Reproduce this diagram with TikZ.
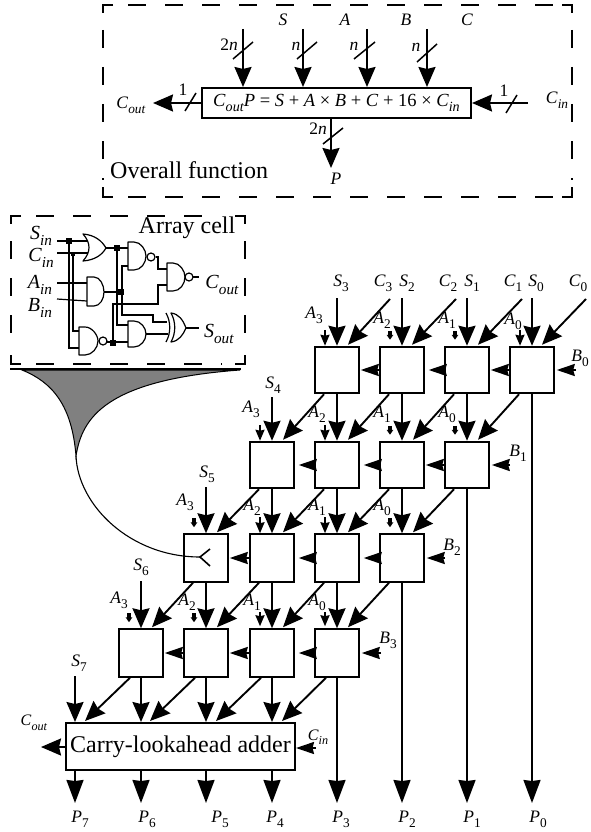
\documentclass[tikz,border=0pt]{standalone}
\usepackage{fontspec}
\usepackage{graphicx}
\setmainfont{Liberation Serif}
\usetikzlibrary{arrows.meta,calc}
\newcommand\Sb[2]{\textit{#1}\raisebox{-.28em}{\scalebox{.76}{#2}}}
\newcommand\Si[2]{\Sb{#1}{\textit{#2}}}
\tikzset{
 cellbox/.style={draw,line width=2pt,minimum width=43.5pt,minimum height=46.5pt,inner sep=0,fill=white},
 lab/.style={inner sep=0,font=\fontsize{17.5}{19}\selectfont},
 clab/.style={inner sep=0,font=\fontsize{20}{22}\selectfont},
 alab/.style={inner sep=0,font=\fontsize{16}{18}\selectfont},
 big/.style={inner sep=0,font=\fontsize{24}{26}\selectfont},
 arr/.style={line width=1.9pt,-{Stealth[length=20pt,width=17pt,inset=2pt]}},
 arrp/.style={line width=1.9pt,-{Stealth[length=23pt,width=17pt,inset=1pt]}},
 arrs/.style={line width=1.9pt,-{Stealth[length=18pt,width=12pt,inset=1.5pt]}},
 small/.style={line width=1.9pt,-{Stealth[length=11pt,width=9pt,inset=1pt]}},
 stub/.style={line width=4pt,-{Stealth[length=5pt,width=6.5pt,inset=0pt]}},
 frame/.style={line width=1.4pt,dash pattern=on 18pt off 19pt},
 corner/.style={line width=1.4pt},
 slash/.style={line width=1.5pt},
 gate/.style={line width=1.2pt,fill=white,line join=round},
 wire/.style={line width=1.2pt},
}
\begin{document}
\begin{tikzpicture}[x=1pt,y=-1pt]
\useasboundingbox (0,0) rectangle (590,832);
% ---------- Overall function
\draw[frame] (128,5) -- (565,5);
\draw[frame] (128,197) -- (565,197);
\draw[frame] (103,30) -- (103,180);
\draw[frame] (572,30) -- (572,180);
\draw[corner] (113,5) -| (103,13);
\draw[corner] (562,5) -| (572,13);
\draw[corner] (103,187) |- (113,197);
\draw[corner] (572,187) |- (562,197);
\node[draw,line width=2pt,minimum width=269pt,minimum height=30pt,inner sep=0,
  font=\fontsize{18.5}{20}\selectfont] (fn) at (336.5,103)
  {\Si{C}{out}\textit{P} = \textit{S} + \textit{A} × \textit{B} + \textit{C} + 16 × \Si{C}{in}};
\node[lab] (lS) at (283,20) {\textit{S}};
\node[lab] (lA) at (345,20) {\textit{A}};
\node[lab] (lB) at (406,20) {\textit{B}};
\node[lab] (lC) at (467,20) {\textit{C}};
\foreach \n/\x in {i1/243,i2/303,i3/367,i4/427}{\coordinate (\n) at (\x,29);}
\foreach \n in {i1,i2,i3,i4}{\draw[arr] (\n) -- (\n |- fn.north);}
\draw[slash] (233,59) -- (253,42);
\draw[slash] (297,59) -- (317,42);
\draw[slash] (354,59) -- (375,42);
\draw[slash] (417,62) -- (437,44);
\node[lab] (n2n) at (229,45) {2\textit{n}};
\node[lab] (n1) at (296,46) {\textit{n}};
\node[lab] (n3) at (354,46) {\textit{n}};
\node[lab] (n4) at (416,47) {\textit{n}};
\coordinate (co) at (153,103);
\coordinate (ci) at (528,103);
\coordinate (po) at (331,168);
\draw[arr] (fn.west) -- (co);
\draw[arr] (ci) -- (fn.east |- ci);
\draw[arr] (fn.south -| po) -- (po);
\draw[slash] (185,111) -- (196,93);
\draw[slash] (506,113) -- (517,95);
\draw[slash] (323,144) -- (343,128);
\node[lab] (one1) at (183,90) {1};
\node[lab] (one2) at (504,91) {1};
\node[lab] (two) at (318,129) {2\textit{n}};
\node[lab] (lco) at (131,105) {\Si{C}{out}};
\node[lab] (lci) at (557,100) {\Si{C}{in}};
\node[lab] (lP) at (336,179) {\textit{P}};
\node[big,anchor=west] (ov) at (110,170) {Overall function};
% ---------- Array cell
\draw[frame] (36,216) -- (220,216);
\draw[frame] (36,364) -- (222,364);
\draw[frame] (11,241) -- (11,335);
\draw[frame] (245,241) -- (245,335);
\draw[corner] (21,216) -| (11,224);
\draw[corner] (235,216) -| (245,224);
\draw[corner] (11,355) |- (21,364);
\draw[corner] (245,355) |- (235,364);
\node[big] (ac) at (187,228) {Array cell};
\node[clab] (sin) at (41,236) {\Si{S}{in}};
\node[clab] (cin) at (41,258) {\Si{C}{in}};
\node[clab] (ain) at (40,285) {\Si{A}{in}};
\node[clab] (bin) at (40,308) {\Si{B}{in}};
\node[clab] (cout) at (222,285) {\Si{C}{out}};
\node[clab] (sout) at (219,334) {\Si{S}{out}};
\draw[wire] (57,241) -- (87,241);
\draw[wire] (57,253) -- (88,253);
\draw[wire] (57,283) -- (87,283);
\draw[wire] (57,299) -- (87,301);
\draw[wire] (69,241) -- (69,348) -- (79,348);
\draw[wire] (73,254) -- (73,331) -- (79,331);
\draw[wire] (106,248) -- (128,248);
\draw[wire] (117,248) -- (117,325) -- (128,325);
\draw[wire] (104,292) -- (123,292);
\draw[wire] (128,266) -- (122,266) -- (122,315) -- (153,315) -- (153,322) -- (167,322);
\draw[wire] (107,342) -- (128,342);
\draw[wire] (113,343) -- (113,304) -- (158,304) -- (158,285) -- (167,285);
\draw[wire] (156,257) -- (158,257) -- (158,269) -- (167,269);
\draw[wire] (146,334) -- (168,334);
\draw[wire] (193,277) -- (199,277);
\draw[wire] (186,328) -- (199,328);
\foreach \x/\y in {69/241,117/248,121/292,113/343}{\fill (\x-3,\y-3) rectangle (\x+3,\y+3);}
\fill (71,252) rectangle (75,256);
% OR
\draw[gate] (83,234) .. controls (95,235) and (102,241) .. (106,248) .. controls (102,255) and (95,260) .. (83,261) .. controls (91,252) and (91,243) .. cycle;
% AND
\draw[gate] (87,277) -- (94,277) .. controls (100,277) and (104,285) .. (104,292) .. controls (104,299) and (100,306) .. (94,306) -- (87,306) -- cycle;
% NAND low
\draw[gate] (79,327) -- (85,327) .. controls (92,327) and (98,335) .. (98,341) .. controls (98,348) and (92,355) .. (85,355) -- (79,355) -- cycle;
\draw[gate] (103,341) circle (4);
% NAND mid
\draw[gate] (128,242) -- (134,242) .. controls (141,242) and (146,250) .. (146,256) .. controls (146,263) and (141,270) .. (134,270) -- (128,270) -- cycle;
\draw[gate] (151,257) circle (4);
% NAND right
\draw[gate] (167,263) -- (173,263) .. controls (180,263) and (185,271) .. (185,277) .. controls (185,284) and (180,291) .. (173,291) -- (167,291) -- cycle;
\draw[gate] (189,277) circle (4);
% AND low
\draw[gate] (128,321) -- (134,321) .. controls (141,321) and (146,328) .. (146,334) .. controls (146,340) and (141,347) .. (134,347) -- (128,347) -- cycle;
% XOR
\draw[gate] (171,313) .. controls (179,314) and (183,320) .. (186,328) .. controls (183,335) and (179,341) .. (171,342) .. controls (176,333) and (176,322) .. cycle;
\draw[line width=1.2pt] (166,313) .. controls (171,322) and (171,333) .. (166,342);
% funnel
\draw[line width=1pt,fill=black!50] (22,370) .. controls (52,382) and (72,405) .. (76,456)
  .. controls (82,418) and (105,380) .. (240,370) -- cycle;
\draw[line width=1.5pt] (10,369) -- (241,369);
% ---------- Grid
\foreach \c/\x in {D/337,E/402,F/467,G/532}{\node[cellbox] (\c0) at (\x,370) {};}
\foreach \c/\x in {C/272,D/337,E/402,F/467}{\node[cellbox] (\c1) at (\x,465) {};}
\foreach \c/\x in {B/206,C/272,D/337,E/402}{\node[cellbox,minimum height=47.5pt] (\c2) at (\x,558) {};}
\foreach \c/\x in {A/141,B/206,C/272,D/337}{\node[cellbox,minimum height=47.5pt] (\c3) at (\x,653) {};}
\coordinate (fntip) at (76,456);
\coordinate (yc) at (200,557);
\draw[line width=1.1pt] (fntip) .. controls (78,505) and (130,557) .. (yc);
\draw[line width=1.6pt] (210,549) -- (200,557) -- (210,566);
\node[draw,line width=2pt,minimum width=229pt,minimum height=47pt,inner sep=0,
  font=\fontsize{24}{26}\selectfont] (add) at (180.5,746.5) {Carry-lookahead adder};
% top inputs
\foreach \n/\x/\l/\lx/\ly in {S3/337/3/341/283,S2/402/2/407/283,S1/467/1/472/283,S0/532/0/536/283}{
  \coordinate (t\n) at (\x,298);
  \node[lab] (L\n) at (\lx,\ly) {\Sb{S}{\l}};
}
\foreach \n/\l/\lx in {C3/3/383,C2/2/448,C1/1/513,C0/0/578}{
  \node[lab] (L\n) at (\lx,283) {\Sb{C}{\l}};
}
\draw[arr] (tS3) -- (D0.north);
\draw[arr] (tS2) -- (E0.north);
\draw[arr] (tS1) -- (F0.north);
\draw[arr] (tS0) -- (G0.north);
\coordinate (tC3) at (390,299);
\coordinate (tC2) at (456,299);
\coordinate (tC1) at (522,299);
\coordinate (tC0) at (586,299);
\draw[arr] (tC3) -- ($(D0.north)+(11,-1)$);
\draw[arr] (tC2) -- ($(E0.north)+(10,-1)$);
\draw[arr] (tC1) -- ($(F0.north)+(11,-1)$);
\draw[arr] (tC0) -- ($(G0.north)+(10,-1)$);
% verticals
\foreach \c/\a/\b in {D/0/1,E/0/1,F/0/1,C/1/2,D/1/2,E/1/2,B/2/3,C/2/3,D/2/3}{
  \draw[arr] (\c\a.south) -- (\c\b.north);
}
% diagonals
\foreach \p/\q in {D0/C1,E0/D1,F0/E1,G0/F1,C1/B2,D1/C2,E1/D2,F1/E2,B2/A3,C2/B3,D2/C3,E2/D3}{
  \draw[arr] ($(\p.south)+(-13,0)$) -- ($(\q.north)+(11,-1)$);
}
% horizontals touching the box on their left
\foreach \p/\q in {G0/F0,C2/B2,B3/A3,C3/B3,F1/E1,E0/D0}{
  \draw[arrs] (\p.west) -- ($(\q.east)+(1,0)$);
}
% horizontals leaving a gap
\foreach \p/\q in {F0/E0,D1/C1,E1/D1,D2/C2,E2/D2,D3/C3}{
  \draw[arrs] (\p.west) -- ($(\q.east)+(4,0)$);
}
% B inputs
\foreach \n/\q/\lx/\ly/\s/\x/\y in {B0/G0/580/358/0/576/370,B1/F1/518/453/1/510/465,B2/E2/452/547/2/445/558,B3/D3/388/640/3/381/653}{
  \coordinate (t\n) at (\x,\y);
  \node[lab] (L\n) at (\lx,\ly) {\Sb{B}{\s}};
  \draw[arrs] (t\n) -- ($(\q.east |- t\n)+(2,0)$);
}
% S inputs lower
\node[lab] (LS4) at (273,385) {\Sb{S}{4}};
\coordinate (tS4) at (272,397);
\draw[arr] (tS4) -- (C1.north);
\node[lab] (LS5) at (207,474) {\Sb{S}{5}};
\coordinate (tS5) at (206,487);
\draw[arr] (tS5) -- (B2.north);
\node[lab] (LS6) at (141,567) {\Sb{S}{6}};
\coordinate (tS6) at (141,581);
\draw[arr] (tS6) -- (A3.north);
\node[lab] (LS7) at (79,663) {\Sb{S}{7}};
\coordinate (tS7) at (75,676);
\draw[arr] (tS7) -- (add.north -| tS7);
% A labels
\foreach \n/\t/\x/\y in {a03/3/314/315,a02/2/382/320,a01/1/447/320,a00/0/513/321,
  a13/3/251/409,a12/2/317/414,a11/1/382/414,a10/0/447/414,
  a23/3/185/502,a22/2/252/507,a21/1/317/507,a20/0/382/507,
  a33/3/119/600,a32/2/187/602,a31/1/252/602,a30/0/317/602}{
  \node[lab] (\n) at (\x,\y) {\Sb{A}{\t}};
}
% A arrows
\foreach \q in {D0,G0,C1,D1,C2,D2}{
  \draw[small] ($(\q.north)+(-12,-16)$) -- ($(\q.north)+(-12,0)$);
}
\foreach \q in {E0,F0,E1,F1,B2,E2,A3,B3}{
  \draw[stub] ($(\q.north)+(-12,-15)$) -- ($(\q.north)+(-12,-6)$);
}
\foreach \q in {C3,D3}{
  \draw[small] ($(\q.north)+(-12,-16)$) -- ($(\q.north)+(-12,-2)$);
}
% adder inputs
\draw[arr] (A3.south) -- (add.north -| A3.south);
\draw[arr] (B3.south) -- (add.north -| B3.south);
\draw[arr] (C3.south) -- (add.north -| C3.south);
\draw[arr] ($(A3.south)+(-11,0)$) -- ($(add.north west)+(20,-1)$);
\draw[arr] ($(B3.south)+(-11,0)$) -- ($(add.north west)+(85,-1)$);
\draw[arr] ($(C3.south)+(-11,0)$) -- ($(add.north west)+(151,-1)$);
\draw[arr] ($(D3.south)+(-11,0)$) -- ($(add.north west)+(217,-1)$);
% adder side
\coordinate (acout) at (41,747);
\coordinate (acin) at (316,748);
\draw[arr] (add.west |- acout) -- (acout);
\draw[arrs] (acin) -- (add.east |- acin);
\node[alab] (Lco) at (34,723) {\Si{C}{out}};
\node[alab] (Lci) at (318,737) {\Si{C}{in}};
% outputs
\foreach \n/\x/\lx/\t in {7/75/80/7,6/141/147/6,5/206/220/5,4/272/275/4,3/337/341/3,2/402/407/2,1/467/472/1,0/532/538/0}{
  \coordinate (q\n) at (\x,803);
  \node[lab] (P\n) at (\lx,819) {\Sb{P}{\t}};
}
\draw[arrp] (add.south -| q7) -- (q7);
\draw[arrp] (add.south -| q6) -- (q6);
\draw[arrp] (add.south -| q5) -- (q5);
\draw[arrp] (add.south -| q4) -- (q4);
\draw[arrp] (D3.south) -- (q3);
\draw[arrp] (E2.south) -- (q2);
\draw[arrp] (F1.south) -- (q1);
\draw[arrp] (G0.south) -- (q0);
\end{tikzpicture}
\end{document}
